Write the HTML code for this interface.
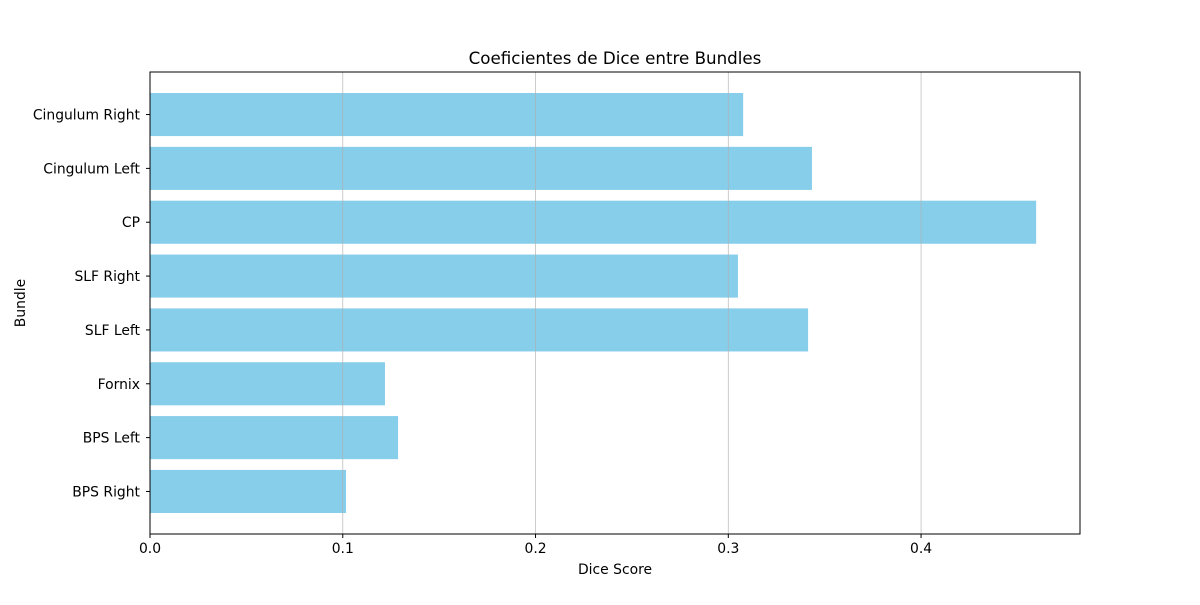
<!DOCTYPE html>
<html><head><meta charset="utf-8"><style>body{margin:0;background:#fff}svg{font-family:"DejaVu Sans","Liberation Sans",sans-serif}</style></head>
<body>
<svg id="chart" width="1200" height="600" xmlns="http://www.w3.org/2000/svg">
<rect width="1200" height="600" fill="#fff"/>
<text x="615" y="64" text-anchor="middle" font-size="16.7">Coeficientes de Dice entre Bundles</text>
<text x="615" y="574" text-anchor="middle" font-size="13.9">Dice Score</text>
<text transform="translate(25,303) rotate(-90)" text-anchor="middle" font-size="13.9">Bundle</text>
<g id="bars"></g><g id="grid"></g><g id="ticks"></g>
<rect x="150" y="72" width="930" height="462" fill="none" stroke="#000" stroke-width="1"/>
</svg>
<script>
const categories=["BPS Right","BPS Left","Fornix","SLF Left","SLF Right","CP","Cingulum Left","Cingulum Right"];
const values=[0.1017,0.1287,0.1219,0.3414,0.305,0.4597,0.3434,0.3077];
const xTicks=[0,0.1,0.2,0.3,0.4];
const xTickLabels=["0.0","0.1","0.2","0.3","0.4"];
const NS="http://www.w3.org/2000/svg";
const L=150,R=1080,T=72,B=534,xMax=0.48245;
const yMin=-0.79,yMax=categories.length-1+0.79;
const xs=v=>L+v/xMax*(R-L);
const ys=v=>B-(v-yMin)/(yMax-yMin)*(B-T);
const unit=(B-T)/(yMax-yMin);
function mk(t,a,p){const e=document.createElementNS(NS,t);for(const k in a)e.setAttribute(k,a[k]);p.appendChild(e);return e;}
const bars=document.getElementById('bars'),grid=document.getElementById('grid'),ticks=document.getElementById('ticks');
categories.forEach((c,i)=>{
 const r=mk('rect',{x:L,y:ys(i)-0.4*unit,width:xs(values[i])-L,height:0.8*unit,fill:'#87ceeb'},bars);
 
 
 mk('line',{x1:L-4,x2:L,y1:ys(i),y2:ys(i),stroke:'#000'},ticks);
 const t=mk('text',{x:L-10,y:ys(i)+5,'text-anchor':'end','font-size':13.9},ticks);
 t.textContent=c;
 
 
});
xTicks.forEach((v,i)=>{
 const g=mk('line',{x1:xs(v),x2:xs(v),y1:T,y2:B,stroke:'#b0b0b0','stroke-width':0.8,opacity:0.8},grid);
 
 
 mk('line',{x1:xs(v),x2:xs(v),y1:B,y2:B+4,stroke:'#000'},ticks);
 const t=mk('text',{x:xs(v),y:B+19,'text-anchor':'middle','font-size':13.9},ticks);
 t.textContent=xTickLabels[i];
 
 
});
</script>
</body></html>
